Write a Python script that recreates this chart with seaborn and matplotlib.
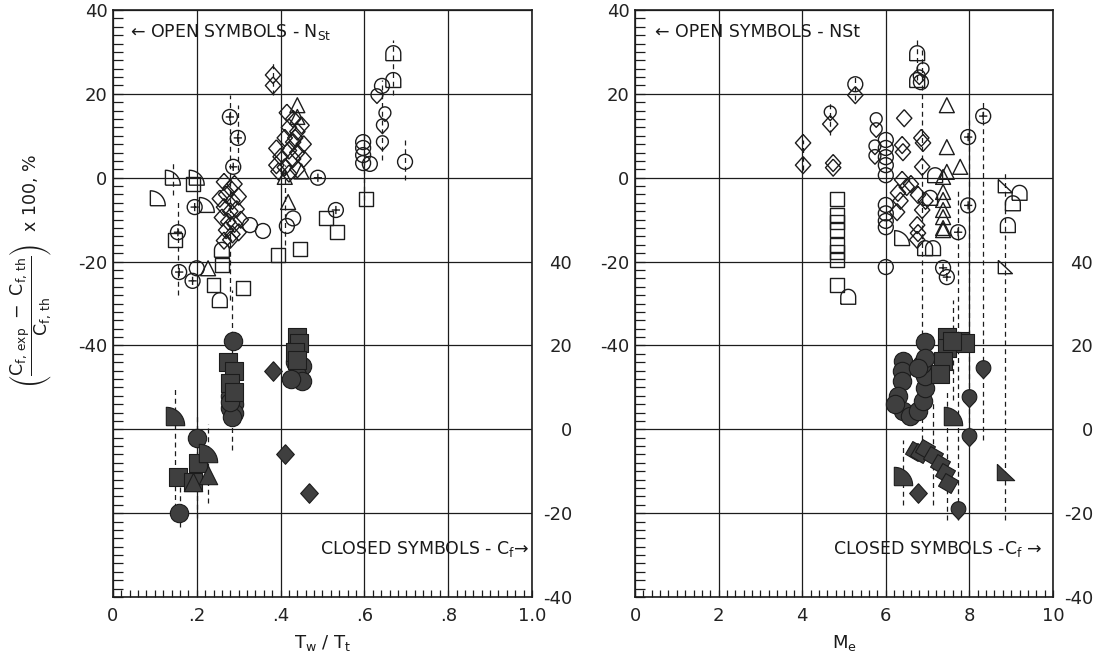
import numpy as np
import matplotlib
matplotlib.use("Agg")
import matplotlib.pyplot as plt
import seaborn as sns
from matplotlib.path import Path
from matplotlib.ticker import MultipleLocator

# ======================= DATA =======================
# ---- Left panel: x = Tw/Tt ----
# open symbols: N_St deviation, % (left axis)
L_cplus_x = [0.279, 0.298, 0.287, 0.195, 0.155, 0.158, 0.19, 0.489, 0.532]
L_cplus_y = [14.5, 9.5, 2.6, -7.0, -13.0, -22.5, -24.6, 0.0, -7.7]
L_circ_x = [0.2, 0.327, 0.358, 0.43, 0.415, 0.597, 0.597, 0.597, 0.597, 0.613, 0.642, 0.697]
L_circ_y = [-21.6, -11.3, -12.7, -9.7, -11.5, 8.5, 7.1, 5.4, 3.5, 3.3, 21.9, 3.8]
L_diam_x = [0.382, 0.382, 0.265, 0.28, 0.29, 0.27, 0.255, 0.285, 0.3, 0.265, 0.28, 0.295,
            0.26, 0.275, 0.29, 0.305, 0.27, 0.285, 0.3, 0.265, 0.28,
            0.43, 0.42, 0.44, 0.41, 0.43, 0.455, 0.39, 0.42, 0.44, 0.40, 0.43, 0.455,
            0.39, 0.41, 0.44, 0.42, 0.395, 0.435, 0.415, 0.45]
L_diam_y = [24.5, 22.0, -1.0, -2.5, -1.5, -4.0, -5.0, -5.5, -4.5, -7.0, -8.0, -7.5,
            -9.5, -10.5, -11.0, -10.0, -12.5, -13.5, -13.0, -15.0, -14.8,
            14.0, 12.0, 11.0, 9.5, 8.5, 8.0, 7.0, 6.5, 6.0, 5.0, 4.5, 4.5,
            3.0, 2.5, 2.0, 1.0, 1.5, 9.5, 15.5, 12.5]
L_sq_x = [0.148, 0.192, 0.24, 0.26, 0.31, 0.394, 0.446, 0.508, 0.534, 0.604]
L_sq_y = [-14.8, -1.5, -25.6, -20.8, -26.3, -18.4, -17.0, -9.7, -13.0, -5.0]
L_tri_x = [0.418, 0.41, 0.44, 0.44, 0.227, 0.45]
L_tri_y = [-5.8, 0.2, 17.3, 14.5, -21.6, 1.5]
L_quar_x = [0.143, 0.107, 0.224, 0.2]
L_quar_y = [0.0, -4.9, -6.5, 0.0]
L_house_x = [0.669, 0.669, 0.255, 0.26]
L_house_y = [29.7, 23.3, -29.2, -17.2]
L_drop_x = [0.649, 0.643, 0.643, 0.63]
L_drop_y = [15.2, 12.3, 8.3, 19.5]
# closed symbols: Cf deviation, % (right axis)
Lc_circ_x = [0.287, 0.28, 0.29, 0.28, 0.29, 0.285, 0.28, 0.435, 0.45, 0.44, 0.45, 0.425, 0.2, 0.157]
Lc_circ_y = [21.0, 8.0, 6.0, 5.0, 4.0, 3.0, 6.5, 16.0, 15.0, 13.0, 11.5, 12.0, -2.1, -20.0]
Lc_sq_x = [0.275, 0.29, 0.28, 0.29, 0.44, 0.445, 0.435, 0.44, 0.155, 0.19, 0.203]
Lc_sq_y = [16.0, 14.0, 11.0, 9.0, 22.0, 20.5, 18.5, 16.5, -11.5, -12.5, -8.0]
Lc_diam_x = [0.382, 0.41, 0.467]
Lc_diam_y = [13.8, -6.0, -15.3]
Lc_quar_x = [0.148, 0.227]
Lc_quar_y = [3.2, -5.7]
Lc_tri_x = [0.227, 0.19]
Lc_tri_y = [-10.8, -12.5]
# dashed scatter bars (left-axis units)
L_bar_x = [0.143, 0.155, 0.28, 0.298, 0.382, 0.41, 0.6, 0.669, 0.697, 0.643,
           0.148, 0.2, 0.227, 0.284, 0.16]
L_bar_lo = [-4.1, -28.0, -29.2, 1.8, 19.7, -16.0, -5.3, 19.7, -0.5, 4.2,
            -80.9, -81.2, -77.6, -64.9, -83.3]
L_bar_hi = [4.2, -5.3, 19.7, 17.3, 27.6, 3.0, 11.4, 32.8, 9.0, 23.3,
            -50.2, -56.1, -58.7, -26.8, -72.1]

# ---- Right panel: x = Me ----
R_circ_x = [5.27, 6.0, 6.0, 6.0, 6.0, 6.0, 6.0, 6.0, 6.0, 6.0, 6.0, 6.84]
R_circ_y = [22.3, 9.0, 7.1, 4.9, 3.0, 0.6, -6.5, -8.5, -10.3, -11.8, -21.3, 22.8]
R_cplus_x = [8.33, 7.97, 7.97, 7.73, 7.37, 7.46]
R_cplus_y = [14.7, 9.7, -6.6, -13.0, -21.5, -23.7]
R_diam_x = [4.02, 4.02, 4.67, 4.74, 4.74, 5.27, 6.44, 6.41, 6.39, 6.89, 6.87, 6.39, 6.29,
            6.5, 6.77, 6.27, 6.87, 6.75, 6.75, 6.77, 6.85, 6.6, 6.35, 6.95]
R_diam_y = [8.3, 3.0, 12.8, 3.5, 2.4, 19.7, 14.2, 6.1, 7.8, 8.3, 2.6, -0.5, -3.6,
            -2.2, -4.1, -8.2, -7.7, -11.3, -14.8, -13.2, 9.5, -1.5, -5.5, -5.5]
R_drop_x = [4.67, 5.77, 5.77, 5.74, 5.74, 6.89, 6.8]
R_drop_y = [15.4, 13.8, 11.4, 7.3, 5.0, 25.7, 24.0]
R_sq_x = [4.83, 4.83, 4.83, 4.83, 4.83, 4.83, 4.83, 4.83]
R_sq_y = [-5.1, -8.9, -10.6, -12.5, -16.0, -17.7, -19.6, -25.6]
R_tri_x = [7.46, 7.46, 7.37, 7.37, 7.37, 7.37, 7.37, 7.37, 7.37, 7.46, 7.78]
R_tri_y = [17.3, 7.3, 0.2, -3.4, -5.3, -7.7, -9.4, -12.0, -12.5, 1.4, 2.6]
R_house_x = [6.75, 6.75, 7.13, 6.94, 7.18, 7.06, 9.04, 9.2, 8.92, 5.1]
R_house_y = [29.7, 23.3, -16.8, -16.8, 0.6, -4.8, -6.1, -3.6, -11.3, -28.4]
R_quar_x = [6.39]
R_quar_y = [-14.4]
R_rtri_x = [8.85, 8.85]
R_rtri_y = [-2.2, -21.5]
Rc_circ_x = [6.94, 6.41, 6.39, 6.39, 6.29, 6.41, 6.58, 6.77, 6.89, 6.94, 6.94, 6.87, 6.94, 6.77, 6.22]
Rc_circ_y = [20.7, 16.2, 13.8, 11.4, 7.9, 4.3, 3.1, 4.3, 6.7, 9.8, 12.6, 15.5, 17.0, 14.5, 6.0]
Rc_sq_x = [7.46, 7.46, 7.37, 7.3, 7.78, 7.9, 7.58]
Rc_sq_y = [22.0, 19.3, 16.2, 13.1, 21.0, 20.5, 21.0]
Rc_rsq_x = [6.7, 6.82, 6.94, 7.13, 7.3, 7.42, 7.49]
Rc_rsq_y = [-5.2, -5.7, -4.8, -6.4, -8.3, -10.5, -12.9]
Rc_diam_x = [6.77]
Rc_diam_y = [-15.2]
Rc_drop_x = [8.33, 7.99, 7.99, 7.73]
Rc_drop_y = [14.3, 7.4, -1.9, -19.3]
Rc_quar_x = [7.6, 6.41]
Rc_quar_y = [3.1, -11.2]
Rc_rtri_x = [8.85]
Rc_rtri_y = [-10.5]
R_bar_x = [4.67, 6.87, 7.73, 7.99, 8.33, 8.85, 6.41, 7.13, 7.46, 7.6, 5.27, 6.75, 4.02]
R_bar_lo = [10.2, -62.6, -81.6, -62.6, -62.6, -81.6, -78.1, -78.1, -81.6, -53.0, 18.5, 23.3, 1.8]
R_bar_hi = [18.5, 30.5, -2.9, 13.8, 18.5, 1.8, -62.6, -53.0, -50.6, -29.2, 24.5, 32.8, 9.0]

L_xticks = [0, 0.2, 0.4, 0.6, 0.8, 1.0]
L_xticklabels = ["0", ".2", ".4", ".6", ".8", "1.0"]
R_xticks = [0, 2, 4, 6, 8, 10]
R_xticklabels = ["0", "2", "4", "6", "8", "10"]
Y_ticks = [-100, -80, -60, -40, -20, 0, 20, 40]
Y_ticklabels = ["", "", "", "-40", "-20", "0", "20", "40"]
Y2_ticks = [-40, -20, 0, 20, 40]
Y2_ticklabels = ["-40", "-20", "0", "20", "40"]

# ======================= STYLE =======================
sns.set_theme(style="white")
plt.rcParams["font.family"] = ["DejaVu Sans"]
plt.rcParams["mathtext.default"] = "regular"
INK = "#1c1c1c"
FILL = "#3f3f3f"


def arc(a0, a1, n=24, r=1.0, cx=0.0, cy=0.0):
    t = np.radians(np.linspace(a0, a1, n))
    return [(cx + r * np.cos(v), cy + r * np.sin(v)) for v in t]


CPLUS = Path.make_compound_path(
    Path.unit_circle(),
    Path([[-0.55, 0], [0.55, 0]], [Path.MOVETO, Path.LINETO]),
    Path([[0, -0.55], [0, 0.55]], [Path.MOVETO, Path.LINETO]))
HOUSE = [(-1, -1), (1, -1), (1, 0)] + arc(0, 180) + [(-1, -1)]
DROP = arc(-40, 220, cy=0.2) + [(0, -1.25), arc(-40, 220, cy=0.2)[0]]
QUAR = [(-0.5, -0.5), (0.5, -0.5)] + arc(0, 90, r=1.0, cx=-0.5, cy=-0.5) + [(-0.5, -0.5)]
DIAM = [(0, 1), (0.9, 0), (0, -1), (-0.9, 0), (0, 1)]
RTRI = [(-0.8, 0.9), (-0.8, -0.7), (0.9, -0.7), (-0.8, 0.9)]
RSQ = (4, 0, 15)


def draw(ax, x, y, marker, s, filled):
    if filled:
        sns.scatterplot(x=x, y=y, ax=ax, marker=marker, s=s, color=FILL,
                        edgecolor=INK, linewidth=0.8, legend=False, zorder=4)
    else:
        sns.scatterplot(x=x, y=y, ax=ax, marker=marker, s=s, facecolors="none",
                        edgecolor=INK, linewidth=1.0, legend=False, zorder=4)


def setup(ax, xmax, xticks, xticklabels, xminor):
    ax.set_xlim(0, xmax)
    ax.set_ylim(-100, 40)
    ax.set_xticks(xticks)
    ax.set_xticklabels(xticklabels)
    ax.xaxis.set_minor_locator(MultipleLocator(xminor))
    ax.set_yticks(Y_ticks)
    ax.set_yticklabels(Y_ticklabels)
    ax.yaxis.set_minor_locator(MultipleLocator(2))
    ax.grid(True, which="major", color=INK, lw=0.9)
    ax.grid(False, which="minor")
    ax.tick_params(axis="y", which="both", direction="in", left=True, right=False,
                   length=7, width=0.9, color=INK, labelsize=13, pad=4, labelcolor="#222")
    ax.tick_params(axis="x", which="both", direction="in", bottom=True, top=False,
                   length=5, width=0.9, color=INK, labelsize=13, pad=7, labelcolor="#222")
    for sp in ax.spines.values():
        sp.set_visible(True)
        sp.set_color(INK)
        sp.set_linewidth(1.2)


def twin(ax):
    ax2 = ax.twinx()
    ax2.set_ylim(-40, 100)
    ax2.set_yticks(Y2_ticks)
    ax2.set_yticklabels(Y2_ticklabels, ha="right")
    ax2.tick_params(axis="y", length=0, pad=29, labelsize=13, labelcolor="#222")
    ax2.grid(False)
    for sp in ax2.spines.values():
        sp.set_visible(False)
    return ax2


fig = plt.figure(figsize=(11.01, 6.6), dpi=100)
axL = fig.add_axes([0.1026, 0.0955, 0.3806, 0.8893])
axR = fig.add_axes([0.5768, 0.0955, 0.3796, 0.8893])
axL2 = twin(axL)
axR2 = twin(axR)

S_O, S_D, S_S, S_F = 115, 150, 100, 175

# ---- left panel ----
axL.vlines(L_bar_x, L_bar_lo, L_bar_hi, colors=INK, linestyles=(0, (4, 3)), linewidth=0.9, zorder=3)
draw(axL, L_diam_x, L_diam_y, DIAM, S_D, False)
draw(axL, L_cplus_x, L_cplus_y, CPLUS, S_O, False)
draw(axL, L_circ_x, L_circ_y, "o", S_O, False)
draw(axL, L_sq_x, L_sq_y, "s", S_S, False)
draw(axL, L_tri_x, L_tri_y, "^", S_O, False)
draw(axL, L_quar_x, L_quar_y, QUAR, S_O, False)
draw(axL, L_house_x, L_house_y, HOUSE, S_O, False)
draw(axL, L_drop_x, L_drop_y, DROP, S_O, False)
draw(axL2, Lc_circ_x, Lc_circ_y, "o", S_F, True)
draw(axL2, Lc_sq_x, Lc_sq_y, "s", S_F, True)
draw(axL2, Lc_diam_x, Lc_diam_y, DIAM, 200, True)
draw(axL2, Lc_quar_x, Lc_quar_y, QUAR, S_F, True)
draw(axL2, Lc_tri_x, Lc_tri_y, "^", S_F, True)

# ---- right panel ----
axR.vlines(R_bar_x, R_bar_lo, R_bar_hi, colors=INK, linestyles=(0, (4, 3)), linewidth=0.9, zorder=3)
draw(axR, R_diam_x, R_diam_y, DIAM, S_D, False)
draw(axR, R_circ_x, R_circ_y, "o", S_O, False)
draw(axR, R_cplus_x, R_cplus_y, CPLUS, S_O, False)
draw(axR, R_drop_x, R_drop_y, DROP, S_O, False)
draw(axR, R_sq_x, R_sq_y, "s", S_S, False)
draw(axR, R_tri_x, R_tri_y, "^", S_O, False)
draw(axR, R_house_x, R_house_y, HOUSE, S_O, False)
draw(axR, R_quar_x, R_quar_y, QUAR, S_O, False)
draw(axR, R_rtri_x, R_rtri_y, RTRI, S_O, False)
draw(axR2, Rc_circ_x, Rc_circ_y, "o", S_F, True)
draw(axR2, Rc_sq_x, Rc_sq_y, "s", S_F, True)
draw(axR2, Rc_rsq_x, Rc_rsq_y, RSQ, 220, True)
draw(axR2, Rc_diam_x, Rc_diam_y, DIAM, 200, True)
draw(axR2, Rc_drop_x, Rc_drop_y, DROP, S_F, True)
draw(axR2, Rc_quar_x, Rc_quar_y, QUAR, S_F, True)
draw(axR2, Rc_rtri_x, Rc_rtri_y, RTRI, S_F, True)

setup(axL, 1.0, L_xticks, L_xticklabels, 0.02)
setup(axR, 10, R_xticks, R_xticklabels, 0.2)
axL2.set_ylim(-40, 100)
axR2.set_ylim(-40, 100)

# ---- texts ----
tkw = dict(fontsize=12.5, color="#1a1a1a", va="center")
axL.text(0.04, 34.8, "\u2190 OPEN SYMBOLS - N$_{St}$", **tkw)
axL.text(0.995, -88.6, "CLOSED SYMBOLS - C$_f$\u2192", ha="right", **tkw)
axR.text(0.48, 34.8, "\u2190 OPEN SYMBOLS - NSt", **tkw)
axR.text(9.75, -88.6, "CLOSED SYMBOLS -C$_f$ \u2192", ha="right", **tkw)

axL.set_xlabel("T$_w$ / T$_t$", fontsize=13, labelpad=6, color="#1a1a1a")
axR.set_xlabel("M$_e$", fontsize=13, labelpad=6, color="#1a1a1a")
axL.set_ylabel("")
axR.set_ylabel("")
axL2.set_ylabel("")
axR2.set_ylabel("")
fig.text(0.028, 0.59,
         r"$\left(\dfrac{C_{f,\,exp}\ -\ C_{f,\,th}}{C_{f,\,th}}\right)$  x 100, %",
         rotation=90, ha="center", va="center", fontsize=12.5, color="#1a1a1a")

fig.savefig("out.png", dpi=100, facecolor="white")
